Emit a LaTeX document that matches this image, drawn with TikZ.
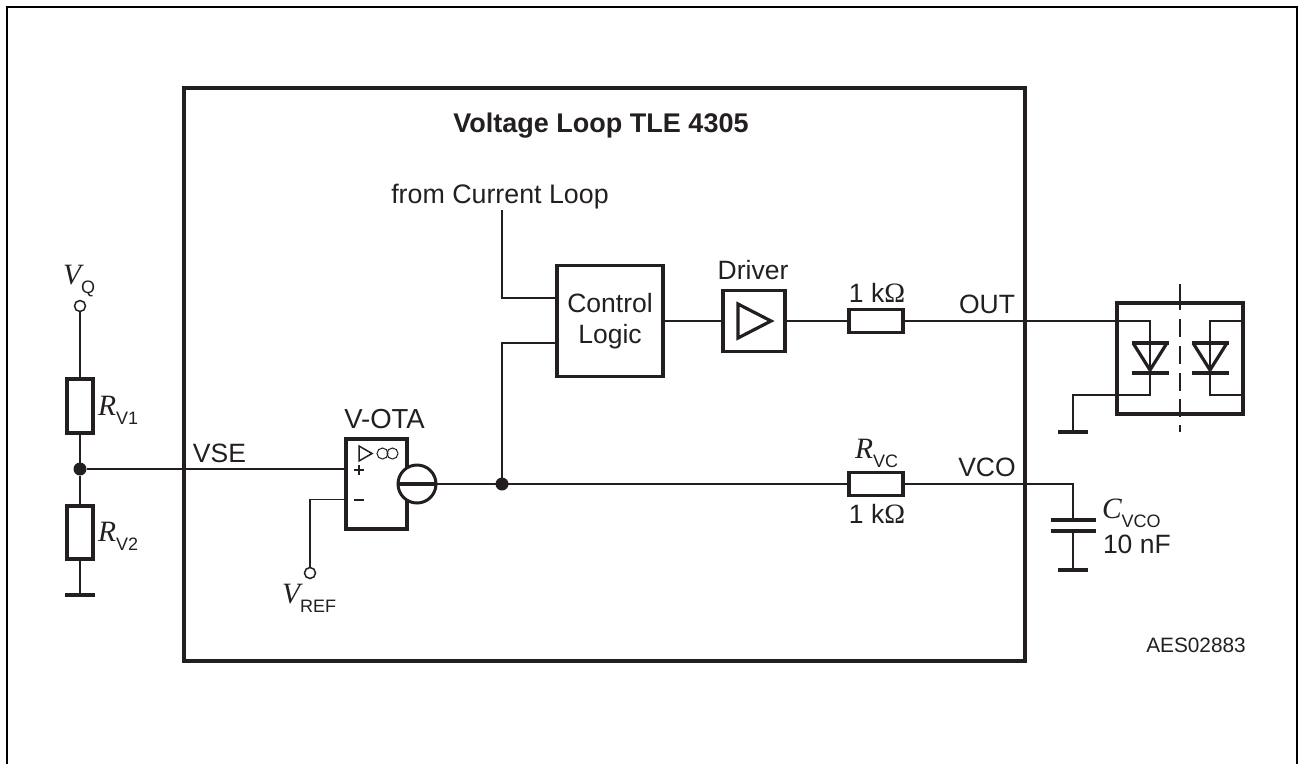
\documentclass[tikz,border=0pt]{standalone}
\usepackage{fontspec}
\setmainfont{Liberation Sans}
\newfontfamily\symfont{Liberation Serif}
\usetikzlibrary{calc}
\definecolor{ink}{HTML}{231F20}
\newcommand{\lbl}{\fontsize{26.5}{31}\selectfont}
\newcommand{\symb}[2]{{\symfont\itshape\fontsize{29.5}{32}\selectfont #1}\raisebox{-9.5pt}{\fontsize{18}{22}\selectfont #2}}
\tikzset{
    wire/.style={line width=1.5pt},
    heavy/.style={line width=3.8pt},
    block/.style={shape=rectangle,draw=ink,heavy,inner sep=0pt,outer sep=0pt},
    res/.style={block,line width=3.2pt},
    port/.style={shape=circle,draw=ink,wire,fill=white,inner sep=0pt,outer sep=0pt,minimum size=11pt},
    dot/.style={shape=circle,fill=ink,inner sep=0pt,outer sep=0pt,minimum size=13pt},
    txt/.style={inner sep=0pt,outer sep=0pt,font=\lbl},
}
\begin{document}
\begin{tikzpicture}[x=1pt,y=-1pt,color=ink,line cap=butt,line join=miter]
            \useasboundingbox (0,0) rectangle (1298,764);
            % page frame
            \coordinate(fa)at(7, 764);
            \coordinate(fb)at(7, 7);
            \coordinate(fc)at(1297, 7);
            \coordinate(fd)at(1297, 764);
            \draw[black,line width=2pt](fa) -- (fb) -- (fc) -- (fd);
            % blocks
            \node[block,minimum width=841pt,minimum height=573pt](chip)at(604.5, 374.5){};
            \node[block,minimum width=106pt,minimum height=111pt,font=\lbl,align=center](logic)at(610, 321){Control\\Logic};
            \node[block,minimum width=62pt,minimum height=61pt](driver)at(754, 321){};
            \node[res,minimum width=54pt,minimum height=23pt](r1k)at(876, 321){};
            \node[res,minimum width=54pt,minimum height=23pt](rvc)at(876, 484){};
            \node[block,minimum width=61pt,minimum height=90pt](ota)at(376.5, 484){};
            \node[shape=circle,draw=ink,line width=3pt,fill=white,inner sep=0pt,outer sep=0pt,minimum size=38pt](src)at(417, 484){};
            \node[res,minimum width=26pt,minimum height=54pt](rv1)at(80, 406){};
            \node[res,minimum width=26pt,minimum height=53pt](rv2)at(80, 532.5){};
            \node[block,minimum width=126pt,minimum height=111pt](opto)at(1180, 358.5){};
            % driver triangle
            \node[inner sep=0pt](da)at(738, 304){};
            \node[inner sep=0pt](db)at(738, 338){};
            \node[inner sep=0pt](dc)at(771, 321){};
            \draw[line width=3.2pt,line join=miter](da.center) -- (dc.center) -- (db.center) -- cycle;
            % ota symbols
            \coordinate(oa)at(359, 446);
            \coordinate(ob)at(359, 461);
            \coordinate(oc)at(372, 453.5);
            \draw[wire](oa) -- (oc) -- (ob) -- cycle;
            \node[shape=circle,draw=ink,line width=1pt,inner sep=0pt,minimum size=11pt](inf1)at(382.5, 453.5){};
            \node[shape=circle,draw=ink,line width=1pt,inner sep=0pt,minimum size=11pt](inf2)at(392.5, 453.5){};
            \coordinate(pl)at(359, 470);
            \draw[wire]($(pl)+(-5,0)$) -- ($(pl)+(5,0)$) ($(pl)+(0,-5)$) -- ($(pl)+(0,5)$);
            \coordinate(mi)at(359, 499.5);
            \draw[wire,line width=2pt]($(mi)+(-5,0)$) -- ($(mi)+(5,0)$);
            % terminals
            \node[port](vq)at(80, 306){};
            \node[port](vref)at(310, 573){};
            \node[dot](njoin)at(80, 469){};
            \node[dot](ojoin)at(502, 484){};
            \coordinate(cur)at(502, 210);
            \coordinate(logtop)at(557, 298);
            \coordinate(logbot)at(557, 343);
            \coordinate(gndv)at(80, 595);
            \coordinate(gndc)at(1073, 570);
            \coordinate(gndo)at(1073, 432);
            \coordinate(gndt)at(1073, 395);
            \coordinate(capt)at(1073, 520);
            \coordinate(capb)at(1073, 531);
            \coordinate(outa)at(1150, 321);
            \coordinate(outb)at(1150, 395);
            \coordinate(inra)at(1243, 321);
            \coordinate(inrb)at(1210, 321);
            \coordinate(inrc)at(1210, 395);
            \coordinate(inrd)at(1243, 395);
            \coordinate(dtop)at(1180, 284);
            \coordinate(dbot)at(1180, 432);
            % connectors
            \draw[wire](vq) -- (rv1);
            \draw[wire](rv1) -- (njoin);
            \draw[wire](njoin) -- (rv2);
            \draw[wire](rv2) -- (gndv);
            \draw[wire](njoin) -- (njoin -| ota.west);
            \draw[wire](vref) |- (ota.west |- mi);
            \draw[wire](src) -- (rvc);
            \draw[wire](ojoin) |- (logbot);
            \draw[line width=1.1pt](cur) |- (logtop);
            \draw[wire](logic) -- (driver);
            \draw[wire](driver) -- (r1k);
            \draw[wire](r1k) -- (outa) -- (outb) -- (gndt) -- (gndo);
            \draw[wire](rvc) -| (capt);
            \draw[wire](capb) -- (gndc);
            \draw[wire](inra) -- (inrb) -- (inrc) -- (inrd);
            \draw[heavy,line width=3.4pt]($(src)+(-20,0)$) -- ($(src)+(20,0)$);
            \draw[wire,line width=2pt,dash pattern=on 26pt off 9pt on 18pt off 9pt on 18pt off 9pt on 18pt off 8pt on 18pt off 8pt on 16pt](dtop) -- (dbot);
            % grounds and plates
            \draw[heavy,line width=3.6pt]($(gndv)+(-15,0)$) -- ($(gndv)+(15,0)$);
            \draw[heavy,line width=3.6pt]($(gndc)+(-15,0)$) -- ($(gndc)+(15,0)$);
            \draw[heavy,line width=3.6pt]($(gndo)+(-15,0)$) -- ($(gndo)+(15,0)$);
            \draw[heavy,line width=3.6pt]($(capt)+(-22.5,0)$) -- ($(capt)+(22.5,0)$);
            \draw[heavy,line width=3.6pt]($(capb)+(-22.5,0)$) -- ($(capb)+(22.5,0)$);
            % diodes
            \foreach \dx in {1150,1210}{
                \draw[line width=3.2pt](\dx-18.5,343) -- (\dx+18.5,343);
                \draw[line width=3.2pt](\dx-18.5,373) -- (\dx+18.5,373);
                \draw[line width=3.2pt](\dx-17,343) -- (\dx,370) -- (\dx+17,343);
            }
            % labels
            \node[txt,font=\fontsize{27}{31}\selectfont\bfseries,anchor=base](title)at(601, 132){Voltage Loop TLE 4305};
            \node[txt,font=\fontsize{26.8}{31}\selectfont,anchor=base](curtxt)at(500, 203){from Current Loop};
            \node[txt,anchor=base](drvtxt)at(753, 279){Driver};
            \node[txt,font=\fontsize{27.5}{31}\selectfont,anchor=base](otatxt)at(384.5, 428){V-OTA};
            \node[txt,anchor=base](r1ktxt)at(877, 302){1 k{\symfont\fontsize{28}{31}\selectfont Ω}};
            \node[txt,anchor=base](rvcval)at(877, 523){1 k{\symfont\fontsize{28}{31}\selectfont Ω}};
            \node[txt,anchor=base](outtxt)at(987, 313){OUT};
            \node[txt,anchor=base](vcotxt)at(987, 476){VCO};
            \node[txt,anchor=base](vsetxt)at(219.5, 462){VSE};
            \node[txt,anchor=base west](vqtxt)at(63, 284){\symb{V}{Q}};
            \node[txt,anchor=base west](rv1txt)at(98, 415){\symb{R}{V1}};
            \node[txt,anchor=base west](rv2txt)at(98, 541){\symb{R}{V2}};
            \node[txt,anchor=base west](vreftxt)at(282, 603){\symb{V}{REF}};
            \node[txt,anchor=base west](rvctxt)at(855, 458){\symb{R}{VC}};
            \node[txt,anchor=base west](cvcotxt)at(1102, 518){\symb{C}{VCO}};
            \node[txt,anchor=base west](cvaltxt)at(1103, 553){10 nF};
            \node[txt,font=\fontsize{20.8}{24}\selectfont](aestxt)at(1196, 645){AES02883};
\end{tikzpicture}
\end{document}
